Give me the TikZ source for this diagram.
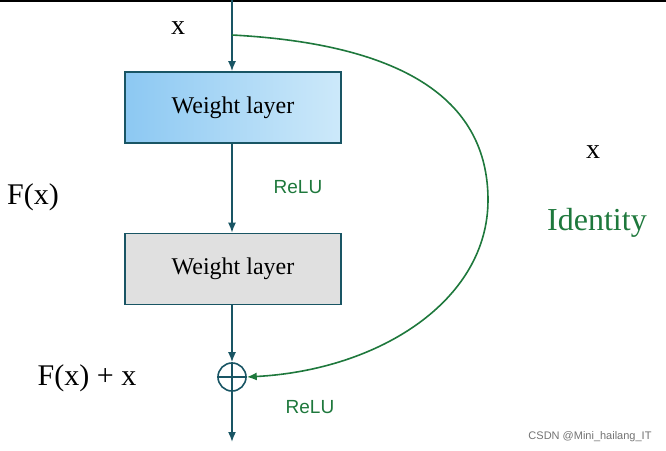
\documentclass[tikz,border=0pt]{standalone}
\usepackage{fontspec}
\setmainfont{Liberation Serif}
\newfontfamily\sansfont{Liberation Sans}
\usetikzlibrary{positioning,arrows.meta}
\definecolor{linecol}{RGB}{25,85,100}
\definecolor{idgreen}{RGB}{30,120,60}
\definecolor{boxblueA}{RGB}{140,200,242}
\definecolor{boxblueB}{RGB}{205,233,250}
\tikzset{
  layer/.style={draw=linecol,line width=0.8pt,minimum width=108pt,minimum height=35.5pt,font=\fontsize{12}{14}\selectfont},
  flow/.style={-{Latex[length=5pt,width=4pt]},draw=linecol,line width=0.8pt},
  relu/.style={text=idgreen,font=\sansfont\fontsize{9.5}{11}\selectfont},
}
\begin{document}
\begin{tikzpicture}[x=0.5pt,y=-0.5pt]
  \useasboundingbox (0,0) rectangle (666,451);
  \draw[line width=1pt] (0,0.5) -- (666,0.5);
  % Nodes
  \coordinate (in) at (232,0);
  \node[layer,left color=boxblueA,right color=boxblueB] (w1) at (233,107.5) {Weight layer};
  \node[layer,fill=black!12] (w2) at (233,269) {Weight layer};
  \node[draw=linecol,line width=0.8pt,circle,minimum size=14pt,inner sep=0pt] (add) at (232,377) {};
  \draw[linecol,line width=0.8pt] (add.north) -- (add.south) (add.west) -- (add.east);
  \coordinate (out) at (232,442);
  % Edges
  \draw[flow] (in) -- (w1.north -| in);
  \draw[flow] (w1.south -| in) -- (w2.north -| in);
  \draw[flow] (w2.south -| in) -- (add);
  \draw[flow] (add) -- (out);
  \coordinate (split) at (232,35);
  \draw[-{Latex[length=5pt,width=4pt]},draw=idgreen,line width=0.8pt] (split) .. controls (420,45) and (488,110) .. (488,200) .. controls (488,300) and (380,370) .. (add.east);
  % Labels
  \node[font=\fontsize{14}{16}\selectfont] at (178,28) {x};
  \node[font=\fontsize{15}{17}\selectfont] at (33,197) {F(x)};
  \node[relu] at (298,187) {ReLU};
  \node[font=\fontsize{14}{16}\selectfont] at (593,152) {x};
  \node[text=idgreen,font=\fontsize{16}{18}\selectfont] at (597,223) {Identity};
  \node[font=\fontsize{15}{17}\selectfont] at (87,378) {F(x) + x};
  \node[relu] at (310,407) {ReLU};
  \node[text=black!55,font=\sansfont\fontsize{5.5}{7}\selectfont] at (590,437) {CSDN @Mini\_hailang\_IT};
\end{tikzpicture}
\end{document}
